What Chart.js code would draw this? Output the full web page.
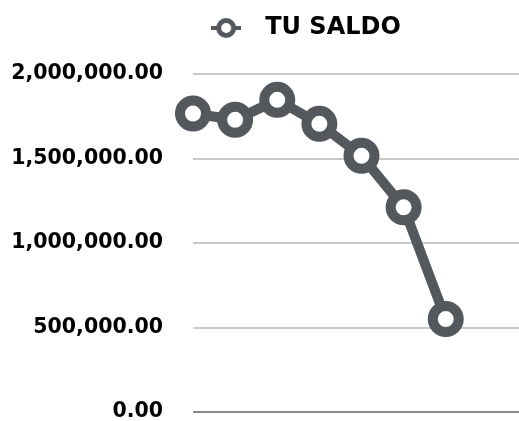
<!DOCTYPE html>
<html>
<head>
<meta charset="utf-8">
<script src="https://cdn.jsdelivr.net/npm/chart.js@4/dist/chart.umd.min.js"></script>
<style>
  html, body { margin: 0; padding: 0; background: #fff; overflow: hidden; }
  .wrap { width: 530px; height: 421px; }
</style>
</head>
<body>
<div class="wrap"><canvas id="chart"></canvas></div>
<script>
// data
const periods = ['1', '2', '3', '4', '5', '6', '7', '8', '9'];
const saldo = [1766000, 1729000, 1847000, 1705000, 1516000, 1211000, 550000];
const yTicks = [0, 500000, 1000000, 1500000, 2000000];
const seriesLabel = 'TU SALDO';

const lineColor = '#54585d';
const fontFamily = '"DejaVu Sans", sans-serif';

// legend icon: short line through a ring
const legendIcon = document.createElement('canvas');
legendIcon.width = 30;
legendIcon.height = 22;
(function () {
    const c = legendIcon.getContext('2d');
    c.strokeStyle = lineColor;
    c.lineWidth = 4;
    c.beginPath();
    c.moveTo(0, 11);
    c.lineTo(30, 11);
    c.stroke();
    c.beginPath();
    c.arc(15, 11, 7.5, 0, Math.PI * 2);
    c.fillStyle = '#fff';
    c.fill();
    c.lineWidth = 5;
    c.stroke();
})();

// extra space under the legend, and nudge it right of the canvas centre
const legendTweak = {
    id: 'legendTweak',
    beforeInit(chart) {
        const fit = chart.legend.fit;
        chart.legend.fit = function () {
            fit.bind(chart.legend)();
            this.height += 24;
        };
    },
    afterLayout(chart) {
        chart.legend.left += 35;
        chart.legend.right += 35;
    }
};

const fmt = v => v.toLocaleString('en-US', { minimumFractionDigits: 2, maximumFractionDigits: 2 });

new Chart(document.getElementById('chart'), {
    type: 'line',
    data: {
        labels: periods,
        datasets: [{
            label: seriesLabel,
            data: saldo,
            borderColor: lineColor,
            backgroundColor: '#fff',
            borderWidth: 10,
            pointRadius: 13,
            pointBorderWidth: 10,
            pointBackgroundColor: '#fff',
            pointBorderColor: lineColor,
            clip: false,
            tension: 0
        }]
    },
    options: {
        responsive: true,
        maintainAspectRatio: false,
        animation: false,
        layout: { autoPadding: false, padding: { left: 0, top: 6, right: 0, bottom: 9 } },
        plugins: {
            tooltip: { enabled: false },
            legend: {
                position: 'top',
                labels: {
                    usePointStyle: true,
                    pointStyle: legendIcon,
                    pointStyleWidth: 54,
                    padding: 10,
                    color: '#000',
                    font: { family: fontFamily, size: 24, weight: 'bold' }
                }
            }
        },
        scales: {
            x: { display: false },
            y: {
                min: 0,
                max: 2000000,
                afterBuildTicks: scale => { scale.ticks = yTicks.map(v => ({ value: v })); },
                afterFit: scale => {
                    scale.width = 193;
                    scale.paddingTop = 0;
                    scale.paddingBottom = 0;
                },
                border: { display: false },
                grid: {
                    drawTicks: false,
                    lineWidth: 2,
                    color: ctx => ctx.tick && ctx.tick.value === 0 ? '#8a8a8a' : '#c8c8c8'
                },
                ticks: {
                    padding: 30,
                    color: '#000',
                    font: { family: fontFamily, size: 20.5, weight: 'bold' },
                    callback: v => fmt(v)
                }
            }
        }
    },
    plugins: [legendTweak]
});
</script>
</body>
</html>
